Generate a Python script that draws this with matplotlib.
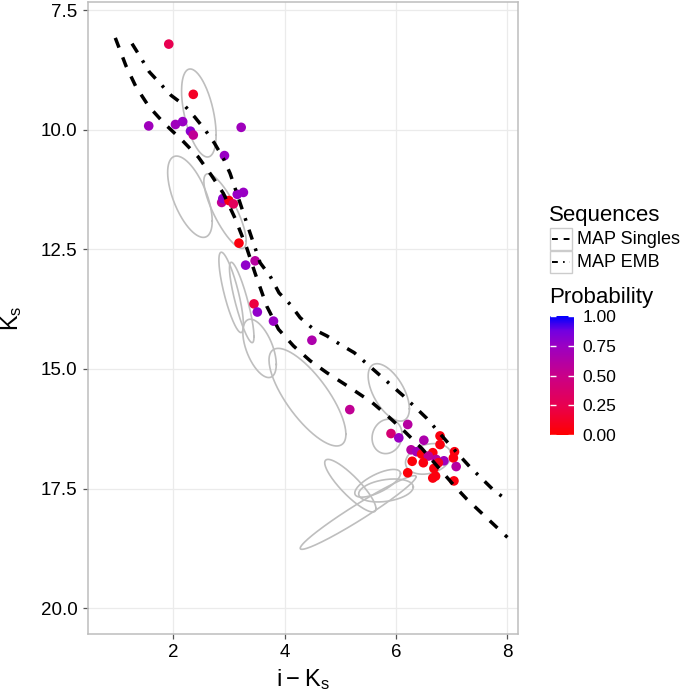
import numpy as np
import matplotlib
matplotlib.use('Agg')
import matplotlib.pyplot as plt
from matplotlib.colors import LinearSegmentedColormap
from matplotlib.lines import Line2D
from matplotlib.patches import Rectangle

plt.rcParams['font.family'] = ['Liberation Sans', 'DejaVu Sans']
plt.rcParams['mathtext.default'] = 'regular'

# observed stars: colour i-Ks, magnitude Ks, probability
star_x = [1.92, 2.36, 1.56, 2.04, 2.17, 2.31, 2.36, 3.22, 2.92, 2.87,
          2.89, 3.00, 3.08, 3.15, 3.26, 3.18, 3.30, 3.47, 3.45, 3.51,
          3.80, 4.49, 5.17, 6.21, 5.91, 6.05, 6.50, 6.79, 6.79, 7.05,
          6.27, 6.37, 6.46, 6.66, 6.58, 6.72, 6.86, 7.03, 6.29, 6.49,
          6.76, 7.08, 6.68, 6.21, 6.71, 6.66, 7.04]
star_y = [8.21, 9.26, 9.92, 9.89, 9.83, 10.03, 10.11, 9.95, 10.54, 11.52,
          11.44, 11.48, 11.55, 11.35, 11.31, 12.37, 12.83, 12.74, 13.64, 13.81,
          14.00, 14.40, 15.85, 16.16, 16.35, 16.44, 16.49, 16.40, 16.58, 16.73,
          16.69, 16.73, 16.78, 16.75, 16.82, 16.89, 16.92, 16.86, 16.93, 16.96,
          16.96, 17.04, 17.08, 17.17, 17.24, 17.28, 17.34]
star_p = [0.25, 0.12, 0.72, 0.72, 0.75, 0.80, 0.55, 0.72, 0.75, 0.55,
          0.78, 0.05, 0.30, 0.75, 0.75, 0.05, 0.78, 0.60, 0.20, 0.78,
          0.75, 0.65, 0.55, 0.60, 0.40, 0.75, 0.65, 0.05, 0.05, 0.05,
          0.60, 0.70, 0.05, 0.05, 0.55, 0.60, 0.72, 0.05, 0.03, 0.05,
          0.10, 0.60, 0.05, 0.03, 0.05, 0.05, 0.05]

# error ellipses: centre, half extents in x and y, correlation
ell_cx = [2.46, 2.30, 2.93, 3.04, 3.23, 3.55, 4.41, 5.87, 5.84, 6.58, 5.18, 5.67, 5.82, 5.32]
ell_cy = [9.65, 11.40, 11.70, 13.40, 13.61, 14.57, 15.59, 15.49, 16.41, 16.88, 17.44, 17.39, 17.54, 18.00]
ell_ex = [0.31, 0.40, 0.38, 0.22, 0.22, 0.30, 0.69, 0.37, 0.27, 0.41, 0.46, 0.41, 0.49, 1.04]
ell_ey = [0.92, 0.85, 0.78, 0.84, 0.84, 0.61, 1.02, 0.60, 0.36, 0.32, 0.55, 0.29, 0.24, 0.77]
ell_rho = [0.50, 0.60, 0.80, 0.80, 0.85, 0.55, 0.76, 0.57, -0.10, -0.25, 0.87, -0.70, -0.30, -0.97]

# MAP sequences
singles_x = [0.96, 1.15, 1.33, 1.56, 1.84, 2.16, 2.45, 2.69, 2.90, 3.11, 3.32, 3.47,
             3.68, 3.89, 4.16, 4.46, 4.76, 5.12, 5.57, 5.81, 6.14, 6.47, 7.06, 7.27, 8.00]
singles_y = [8.08, 8.66, 9.10, 9.51, 9.87, 10.22, 10.57, 10.96, 11.33, 11.85, 12.47, 13.00,
             13.69, 14.17, 14.52, 14.83, 15.08, 15.35, 15.70, 15.94, 16.29, 16.67, 17.46, 17.72, 18.52]
emb_x = [1.26, 1.41, 1.57, 1.77, 1.96, 2.20, 2.39, 2.57, 2.74, 2.90, 3.02, 3.20, 3.38,
         3.56, 3.74, 3.90, 4.10, 4.28, 4.52, 4.76, 5.00, 5.25, 5.66, 6.13, 6.55, 6.93,
         7.32, 7.74, 8.00]
emb_y = [8.20, 8.48, 8.79, 9.04, 9.28, 9.49, 9.74, 10.00, 10.28, 10.60, 10.91, 11.53, 12.16,
         12.78, 13.06, 13.41, 13.65, 13.93, 14.17, 14.31, 14.49, 14.66, 15.08, 15.56, 16.03, 16.54,
         17.04, 17.52, 17.75]

cbar_ticks = [0.0, 0.25, 0.5, 0.75, 1.0]

cmap = LinearSegmentedColormap.from_list(
    'redblue', [(0.0, '#FF0000'), (0.25, '#E80050'), (0.5, '#C90089'),
                (0.75, '#9A00C3'), (0.875, '#7300E0'), (1.0, '#0000FF')])

W = 700.0
fig = plt.figure(figsize=(7, 7), dpi=100)
ax = fig.add_axes([88 / W, 1 - 634 / W, 430 / W, 632 / W])

ax.set_xlim(0.47, 8.19)
ax.set_ylim(20.54, 7.33)
ax.set_xticks([2, 4, 6, 8])
ax.set_yticks([7.5, 10.0, 12.5, 15.0, 17.5, 20.0])
ax.set_yticklabels(['%.1f' % v for v in [7.5, 10.0, 12.5, 15.0, 17.5, 20.0]])
ax.grid(True, color='#EBEBEB', lw=0.9, zorder=0)
ax.set_axisbelow(True)
for s in ax.spines.values():
    s.set_color('#BDBDBD')
    s.set_linewidth(1.1)
ax.tick_params(length=3.5, width=0.9, color='#555555', labelsize=13.5,
               labelcolor='black', pad=4)

t = np.linspace(0, 2 * np.pi, 200)
for cx, cy, ex, ey, r in zip(ell_cx, ell_cy, ell_ex, ell_ey, ell_rho):
    ax.plot(cx + ex * np.cos(t),
            cy + ey * (r * np.cos(t) + np.sqrt(1 - r ** 2) * np.sin(t)),
            color='#BEBEBE', lw=1.2, zorder=2)

sc = ax.scatter(star_x, star_y, c=star_p, cmap=cmap, vmin=0, vmax=1,
                s=48, linewidths=0, zorder=3)

ax.plot(singles_x, singles_y, color='black', lw=2.5, ls=(0, (3, 3)), zorder=4)
ax.plot(emb_x, emb_y, color='black', lw=2.5, ls=(0, (3, 2.7, 0.8, 2.7)), zorder=4)

ax.set_xlabel(r'$i - K_s$', fontsize=17, labelpad=4)
ax.set_ylabel(r'$K_s$', fontsize=17, labelpad=12)

# legend for line types
fig.text(549 / W, 1 - 215 / W, 'Sequences', fontsize=16, va='center', ha='left')
keys = [('MAP Singles', (0, (3, 3)), 239), ('MAP EMB', (0, (3, 2.7, 0.8, 2.7)), 262)]
for lab, ls, yc in keys:
    fig.add_artist(Rectangle((550 / W, 1 - (yc + 11) / W), 22 / W, 22 / W,
                             transform=fig.transFigure, facecolor='white',
                             edgecolor='#CCCCCC', lw=1.0))
    fig.add_artist(Line2D([552 / W, 570 / W], [1 - yc / W, 1 - yc / W],
                          transform=fig.transFigure, color='black', lw=1.4, ls=ls))
    fig.text(577 / W, 1 - yc / W, lab, fontsize=13, va='center', ha='left')

# colour bar
fig.text(549 / W, 1 - 297 / W, 'Probability', fontsize=16, va='center', ha='left')
cax = fig.add_axes([550 / W, 1 - 435 / W, 24 / W, 119 / W])
cb = fig.colorbar(sc, cax=cax, ticks=cbar_ticks)
cb.outline.set_visible(False)
cb.ax.set_yticklabels(['%.2f' % v for v in cbar_ticks])
cb.ax.tick_params(direction='in', length=4, width=1, color='white',
                  left=True, right=True, labelsize=12.5, pad=6)

fig.savefig('out.png', dpi=100)
